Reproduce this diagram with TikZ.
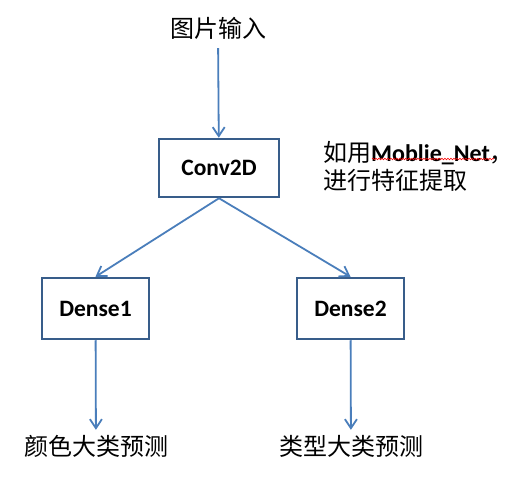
\documentclass[tikz,border=0pt]{standalone}
\usepackage{fontspec}
\setmainfont{Carlito}
\newfontfamily\cjk{Noto Sans CJK SC}
\usetikzlibrary{arrows.meta,decorations.pathmorphing}
\definecolor{boxblue}{RGB}{56,93,138}
\definecolor{arrowblue}{RGB}{74,126,187}

\begin{document}
\begin{tikzpicture}[x=1pt, y=1pt, >={Straight Barb[length=9pt,width=12pt]},
    box/.style={draw=boxblue, line width=2.5pt, fill=white, font=\fontsize{23.5}{27}\selectfont\bfseries},
    labeltext/.style={inner sep=8pt, text height=0.8em, text depth=0.2em, font=\cjk\fontsize{24}{28}\selectfont},
    flow/.style={->, draw=arrowblue, line width=1.8pt}]
    \useasboundingbox (0,0) rectangle (510,476);

    \coordinate (posInput) at (218,441);
    \coordinate (posConv) at (219,308);
    \coordinate (posDenseA) at (95.5,167.5);
    \coordinate (posDenseB) at (350.5,167.5);
    \coordinate (posOutA) at (96,24);
    \coordinate (posOutB) at (351,24);
    \coordinate (posNote) at (321,310);

    \node[labeltext] (input) at (posInput) {图片输入};
    \node[box, minimum width=120pt, minimum height=58pt] (conv) at (posConv) {Conv2D};
    \node[box, minimum width=107pt, minimum height=61pt] (dense1) at (posDenseA) {Dense1};
    \node[box, minimum width=107pt, minimum height=61pt] (dense2) at (posDenseB) {Dense2};
    \node[labeltext] (out1) at (posOutA) {颜色大类预测};
    \node[labeltext] (out2) at (posOutB) {类型大类预测};
    \node[anchor=west, inner sep=2pt, align=left, font=\fontsize{24}{28}\selectfont] (note) at (posNote)
        {{\cjk 如用}\textbf{Moblie\_Net}\makebox[0.35em][l]{\cjk ，}\\{\cjk 进行特征提取}};

    % spell-check squiggle
    \draw[red, line width=0.6pt, decorate, decoration={snake, amplitude=0.8pt, segment length=3pt}] (372,317) -- (494,317);

    \draw[flow] (input) -- (conv);
    \draw[flow] (conv.south) -- (dense1.north);
    \draw[flow] (conv.south) -- (dense2.north);
    \draw[flow, shorten >=9pt] (dense1) -- (out1);
    \draw[flow, shorten >=9pt] (dense2) -- (out2);
\end{tikzpicture}
\end{document}
